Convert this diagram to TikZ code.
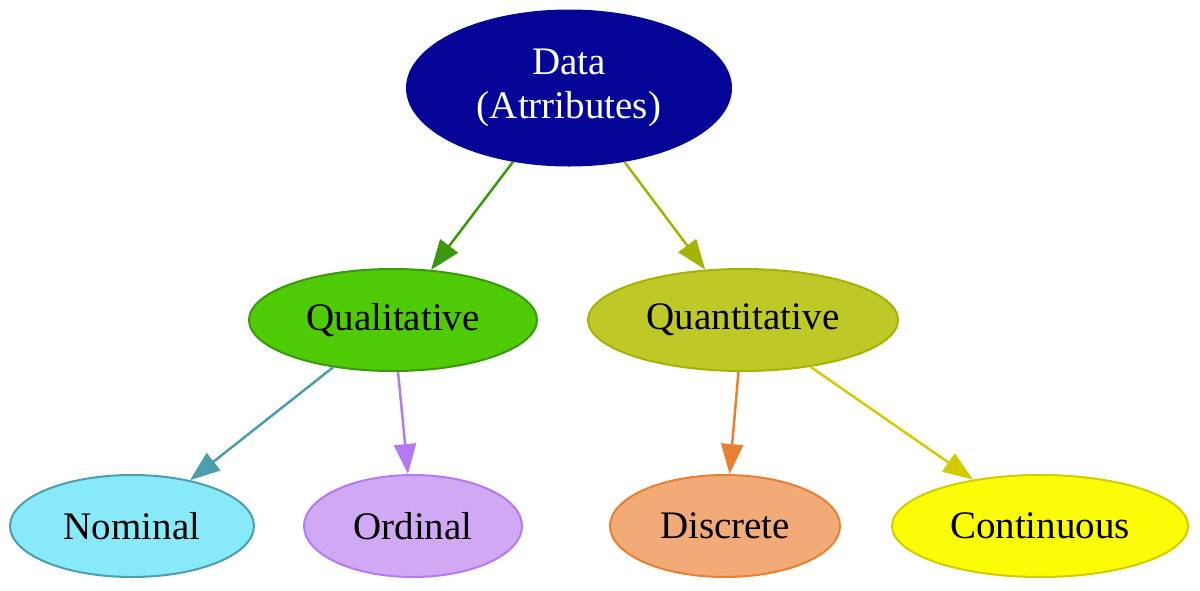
\documentclass[tikz,border=0pt]{standalone}
\usepackage{fontspec}
\setmainfont{Liberation Serif}
\usetikzlibrary{shapes.geometric,arrows.meta}
\definecolor{datafill}{HTML}{040497}
\definecolor{qlfill}{HTML}{4FCB06}
\definecolor{qldraw}{HTML}{3A980C}
\definecolor{qnfill}{HTML}{BEC928}
\definecolor{qndraw}{HTML}{A6B200}
\definecolor{nomfill}{HTML}{88E9F8}
\definecolor{nomdraw}{HTML}{4C9EAA}
\definecolor{ordfill}{HTML}{D0A8F4}
\definecolor{orddraw}{HTML}{B57AF2}
\definecolor{disfill}{HTML}{F2AA76}
\definecolor{disdraw}{HTML}{E88032}
\definecolor{confill}{HTML}{FCFC06}
\definecolor{condraw}{HTML}{D4CA00}
\tikzset{
  ell/.style={ellipse, inner sep=0pt, line width=2pt, font=\fontsize{39}{44}\selectfont, align=center},
  edge/.style={line width=2.5pt, -{Triangle[length=30pt,width=22pt]}},
}
\begin{document}
\begin{tikzpicture}[x=1pt,y=-1pt]
\useasboundingbox (0,0) rectangle (1200,590);
\node[ell, fill=datafill, draw=datafill, text=white, minimum width=324pt, minimum height=155pt] (data) at (569,88) {Data\\(Atrributes)};
\node[ell, fill=qlfill, draw=qldraw, minimum width=288pt, minimum height=102pt] (ql) at (393,320) {Qualitative};
\node[ell, fill=qnfill, draw=qndraw, minimum width=310pt, minimum height=102pt] (qn) at (743,320) {Quantitative};
\node[ell, fill=nomfill, draw=nomdraw, minimum width=244pt, minimum height=102pt] (nom) at (132,526) {Nominal};
\node[ell, fill=ordfill, draw=orddraw, minimum width=218pt, minimum height=102pt] (ord) at (413,526) {Ordinal};
\node[ell, fill=disfill, draw=disdraw, minimum width=230pt, minimum height=102pt] (dis) at (725,526) {Discrete};
\node[ell, fill=confill, draw=condraw, minimum width=296pt, minimum height=102pt] (con) at (1040,526) {Continuous};
\draw[edge, draw=qldraw, fill=qldraw] (data) -- (ql);
\draw[edge, draw=qndraw, fill=qndraw] (data) -- (qn);
\draw[edge, draw=nomdraw, fill=nomdraw] (ql) -- (nom);
\draw[edge, draw=orddraw, fill=orddraw] (ql) -- (ord);
\draw[edge, draw=disdraw, fill=disdraw] (qn) -- (dis);
\draw[edge, draw=condraw, fill=condraw] (qn) -- (con);
\end{tikzpicture}
\end{document}
